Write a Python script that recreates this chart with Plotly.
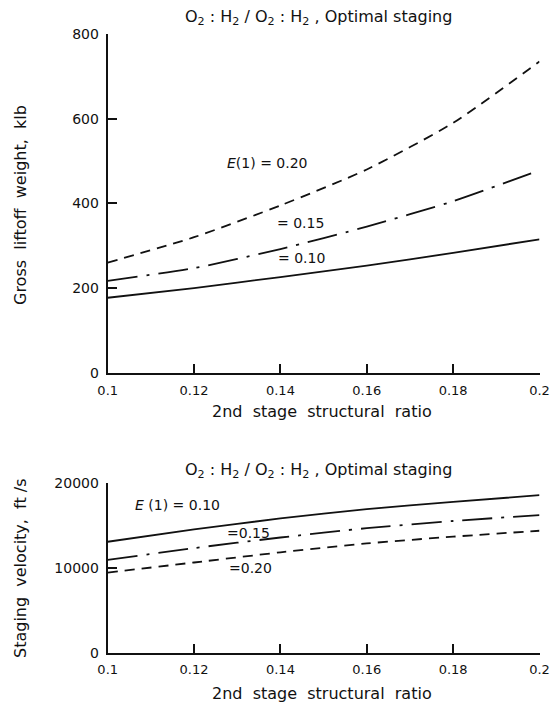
import plotly.graph_objects as go

# ---------------- data ----------------
ratio = [0.10, 0.12, 0.14, 0.16, 0.18, 0.20]

# Gross liftoff weight, klb
glw_e010 = [177, 200, 226, 253, 283, 315]
glw_e015 = [217, 247, 292, 345, 405, 478]
glw_e020 = [260, 320, 395, 480, 590, 735]

# Staging velocity, ft/s
sv_e010 = [13100, 14550, 15850, 16950, 17800, 18600]
sv_e015 = [10950, 12350, 13600, 14700, 15550, 16250]
sv_e020 = [9450, 10650, 11850, 12900, 13700, 14400]

x_ticks = [0.1, 0.12, 0.14, 0.16, 0.18, 0.2]
x_ticktext = ["0.1", "0.12", "0.14", "0.16", "0.18", "0.2"]
glw_ticks = [0, 200, 400, 600, 800]
glw_ticktext = ["0", "200", "400", "600", "800"]
sv_ticks = [0, 10000, 20000]
sv_ticktext = ["0", "10000", "20000"]

title_text = "O<sub>2</sub> : H<sub>2</sub> / O<sub>2</sub> : H<sub>2</sub> , Optimal staging"

# ---------------- figure ----------------
W, H = 552, 707
FONT = "DejaVu Sans"
BLACK = "#111111"

fig = go.Figure()

DASH = "10px,7px"
DASHDOT = "30px,9px,3px,9px"

def add(x, y, dash, xa, ya):
    fig.add_trace(go.Scatter(x=x, y=y, mode="lines", xaxis=xa, yaxis=ya,
                             line=dict(color=BLACK, width=1.8, dash=dash, shape="spline", smoothing=0.6),
                             showlegend=False, hoverinfo="skip"))

add(ratio, glw_e010, "solid", "x", "y")
add(ratio, glw_e015, DASHDOT, "x", "y")
add(ratio, glw_e020, DASH, "x", "y")
add(ratio, sv_e010, "solid", "x2", "y2")
add(ratio, sv_e015, DASHDOT, "x2", "y2")
add(ratio, sv_e020, DASH, "x2", "y2")

def px_x(p):
    return p / W

def px_y(p):
    return 1 - p / H

xdom = [px_x(107.7), px_x(539.5)]
axis_common = dict(showline=True, linecolor=BLACK, linewidth=2, mirror=False,
                   showgrid=False, zeroline=False, ticks="inside", ticklen=9,
                   tickwidth=2, tickcolor=BLACK, layer="above traces",
                   automargin=False)
xfont = dict(family=FONT, size=13, color=BLACK)
yfont = dict(family=FONT, size=14, color=BLACK)

fig.update_layout(
    width=W, height=H,
    margin=dict(l=0, r=0, t=0, b=0, autoexpand=False),
    paper_bgcolor="white", plot_bgcolor="white",
    xaxis=dict(domain=xdom, range=[0.1, 0.2], tickvals=x_ticks, ticktext=x_ticktext,
               anchor="y", ticklabelstandoff=5, ticklabeloverflow="allow",
               tickfont=xfont, **axis_common),
    yaxis=dict(domain=[px_y(372.7), px_y(34)], range=[0, 800], tickvals=glw_ticks,
               ticktext=glw_ticktext, anchor="x", ticklabelstandoff=4,
               tickfont=yfont, **axis_common),
    xaxis2=dict(domain=xdom, range=[0.1, 0.2], tickvals=x_ticks, ticktext=x_ticktext,
                anchor="y2", ticklabelstandoff=4, ticklabeloverflow="allow",
                tickfont=xfont, **axis_common),
    yaxis2=dict(domain=[px_y(652.7), px_y(483.3)], range=[0, 20000], tickvals=sv_ticks,
                ticktext=sv_ticktext, anchor="x2", ticklabelstandoff=4,
                tickfont=yfont, **axis_common),
)

ann = []
tf = dict(family=FONT, size=16, color=BLACK)
# chart titles
ann.append(dict(text=title_text, xref="paper", yref="paper", x=px_x(318), y=px_y(17),
                xanchor="center", yanchor="middle", showarrow=False, font=tf))
ann.append(dict(text=title_text, xref="paper", yref="paper", x=px_x(318), y=px_y(470),
                xanchor="center", yanchor="middle", showarrow=False, font=tf))
# axis titles
ann.append(dict(text="2nd\u00a0 stage\u00a0 structural\u00a0 ratio", xref="paper", yref="paper",
                x=px_x(322), y=px_y(411), xanchor="center", yanchor="middle",
                showarrow=False, font=tf))
ann.append(dict(text="2nd\u00a0 stage\u00a0 structural\u00a0 ratio", xref="paper", yref="paper",
                x=px_x(322), y=px_y(693), xanchor="center", yanchor="middle",
                showarrow=False, font=tf))
ann.append(dict(text="Gross\u00a0 liftoff\u00a0 weight,\u00a0 klb", xref="paper", yref="paper",
                x=px_x(20), y=px_y(205), xanchor="center", yanchor="middle", textangle=-90,
                showarrow=False, font=tf))
ann.append(dict(text="Staging\u00a0 velocity,\u00a0 ft /s", xref="paper", yref="paper",
                x=px_x(20), y=px_y(568), xanchor="center", yanchor="middle", textangle=-90,
                showarrow=False, font=tf))
# curve labels
lf = dict(family=FONT, size=14, color=BLACK)
ann.append(dict(text="<i>E</i>(1) = 0.20", xref="x", yref="y", x=0.137, y=495,
                xanchor="center", yanchor="middle", showarrow=False, font=lf))
ann.append(dict(text="= 0.15", xref="x", yref="y", x=0.1447, y=354,
                xanchor="center", yanchor="middle", showarrow=False, font=lf))
ann.append(dict(text="= 0.10", xref="x", yref="y", x=0.1449, y=271,
                xanchor="center", yanchor="middle", showarrow=False, font=lf))
ann.append(dict(text="<i>E</i> (1) = 0.10", xref="x2", yref="y2", x=0.1161, y=17440,
                xanchor="center", yanchor="middle", showarrow=False, font=lf))
ann.append(dict(text="=0.15", xref="x2", yref="y2", x=0.1326, y=14100,
                xanchor="center", yanchor="middle", showarrow=False, font=lf))
ann.append(dict(text="=0.20", xref="x2", yref="y2", x=0.1331, y=9965,
                xanchor="center", yanchor="middle", showarrow=False, font=lf))
fig.update_layout(annotations=ann)

fig.write_html("out.html")
